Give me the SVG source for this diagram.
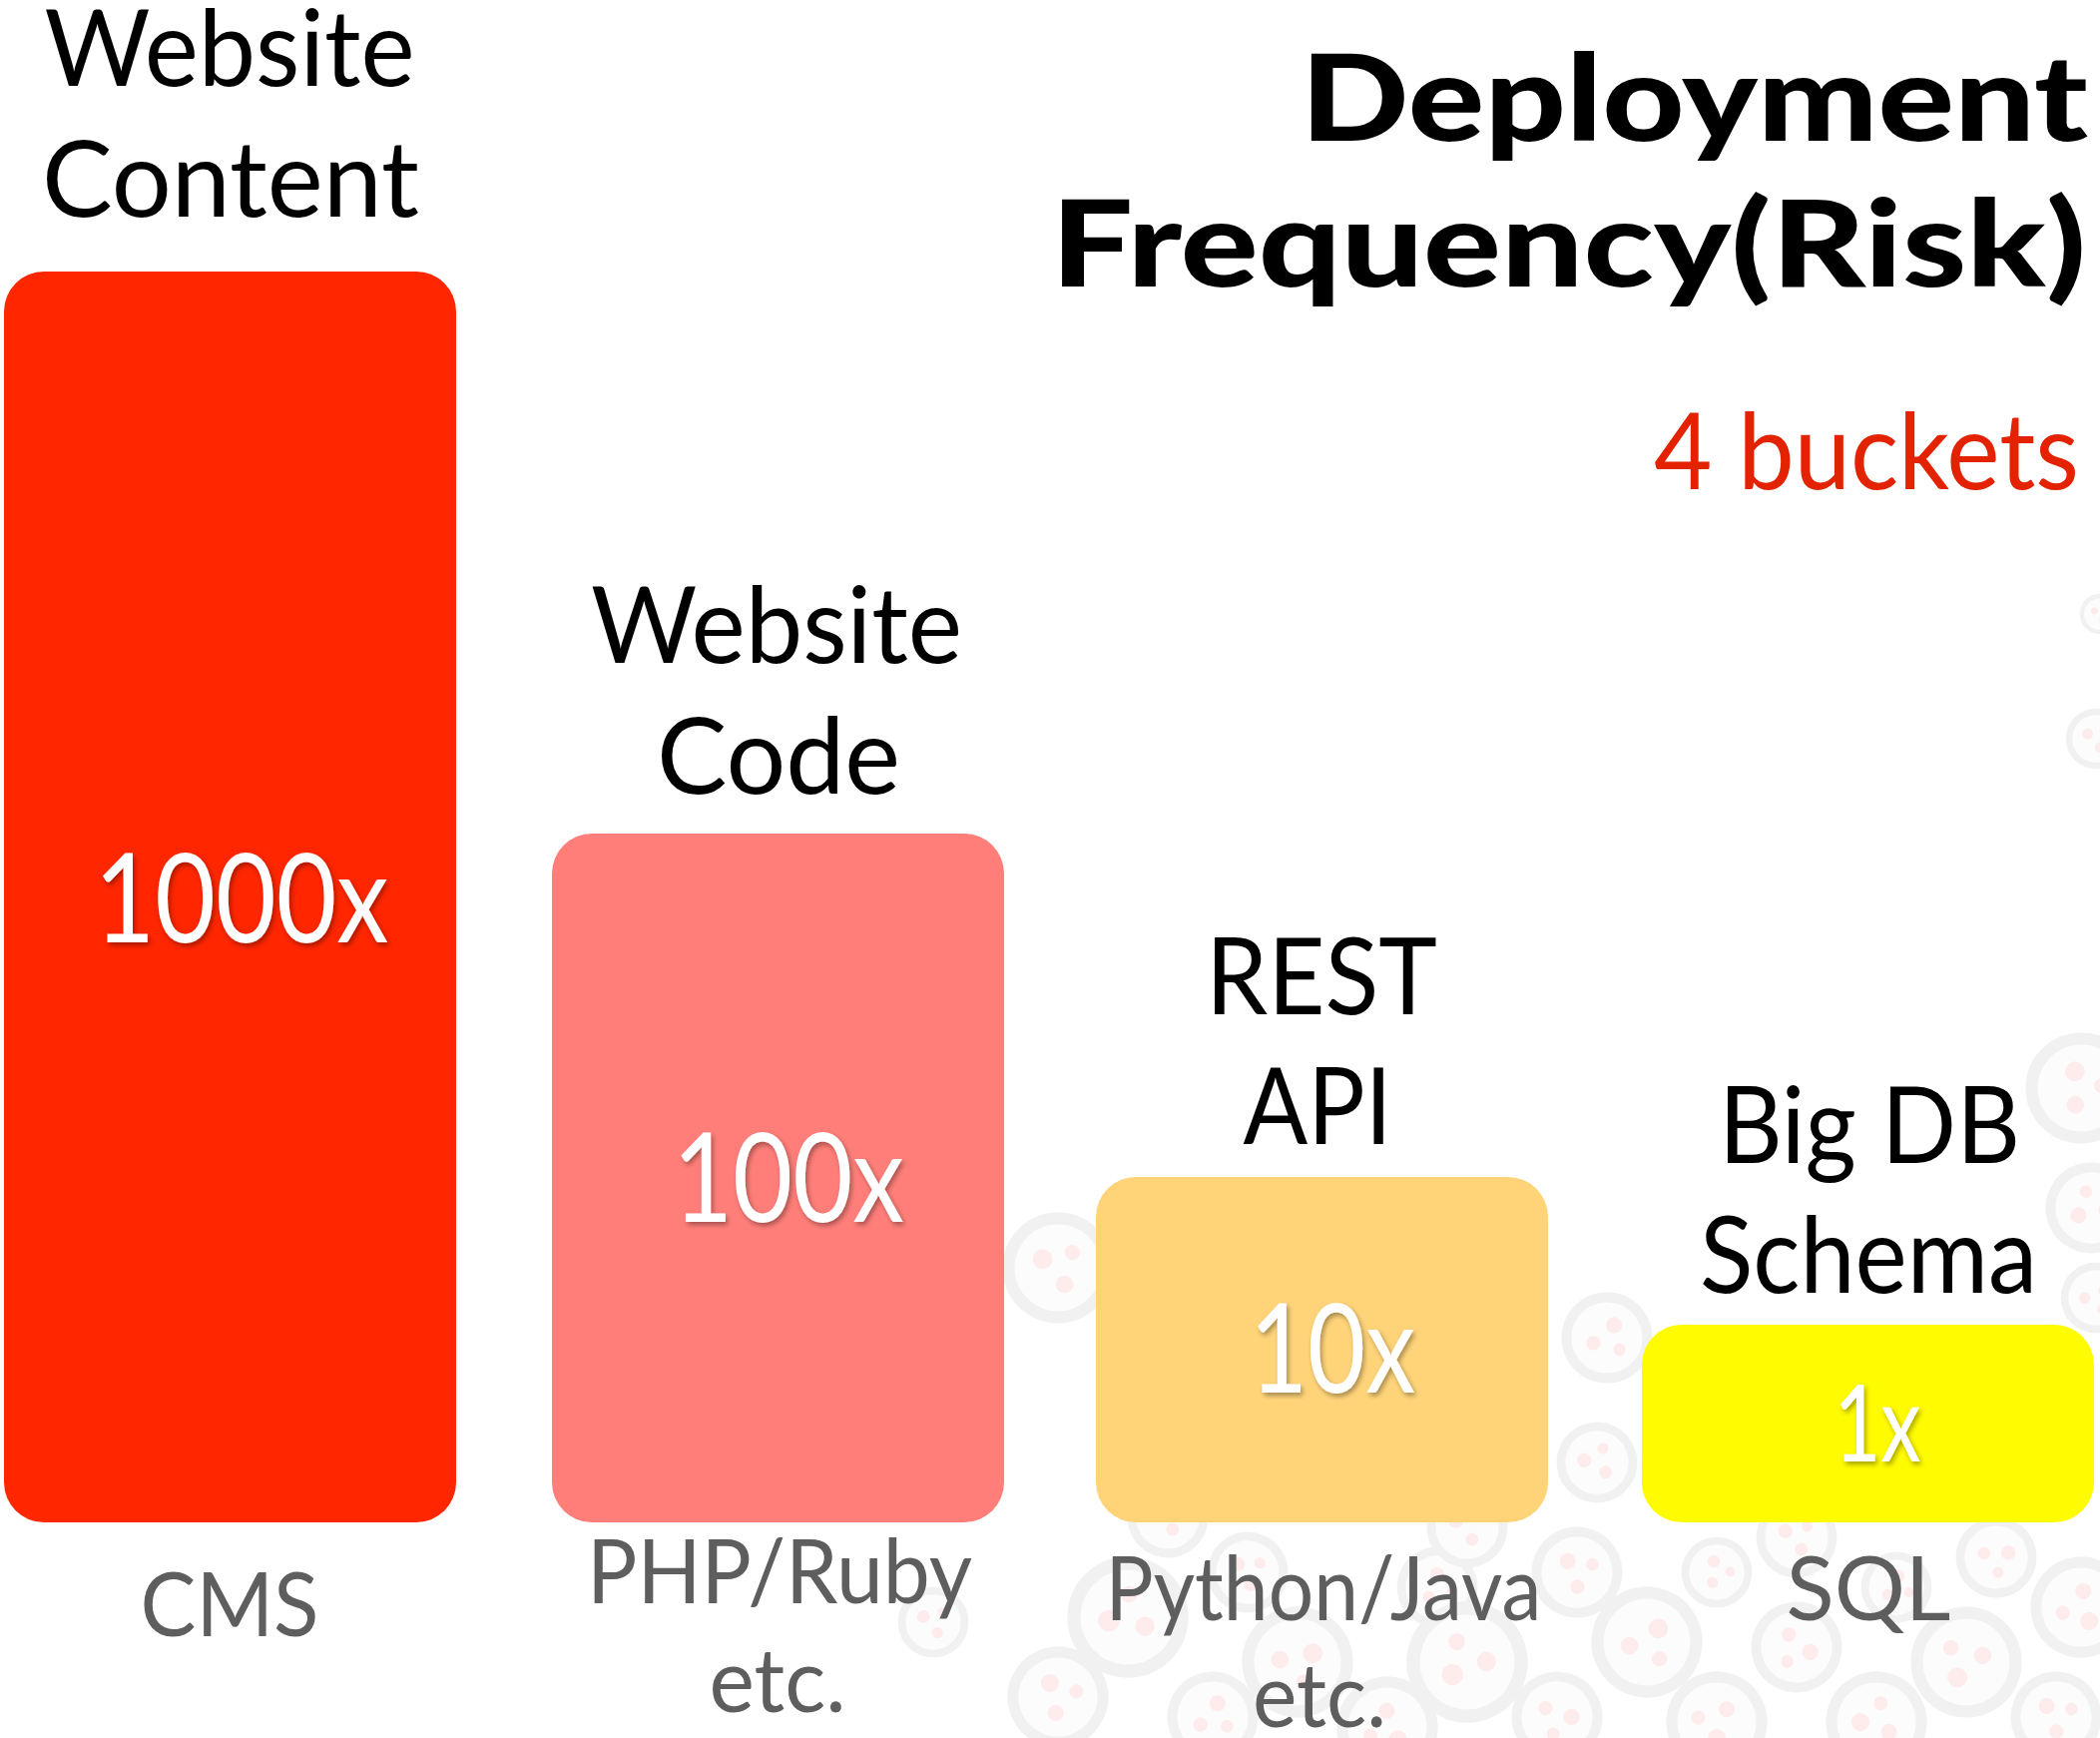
<svg xmlns="http://www.w3.org/2000/svg" xmlns:xlink="http://www.w3.org/1999/xlink" width="2104" height="1741" viewBox="0 0 2104 1741">
<style>
.lbl{font-family:Lato,"Open Sans","Liberation Sans",sans-serif;font-size:106px;fill:#000;text-anchor:middle}
.sub{font-family:Lato,"Open Sans","Liberation Sans",sans-serif;font-size:90px;fill:#5e5e5e;text-anchor:middle}
.val{font-family:Lato,"Open Sans","Liberation Sans",sans-serif;font-size:124px;fill:#fff;text-anchor:middle;filter:url(#sh)}
.title{font-family:Lato,"Open Sans","Liberation Sans",sans-serif;font-weight:900;font-size:121px;fill:#000;text-anchor:end}
.red{font-family:Lato,"Open Sans","Liberation Sans",sans-serif;font-size:107px;fill:#e32200;text-anchor:end}
.ring{fill:#fcfcfc;stroke:#f1f1f1;stroke-width:11}
.dot{fill:#fdeceb}
</style>
<defs>
<filter id="sh" x="-20%" y="-20%" width="140%" height="150%">
<feDropShadow dx="2" dy="3" stdDeviation="2.5" flood-color="#000" flood-opacity="0.35"/>
</filter>
<symbol id="face" overflow="visible">
<circle class="ring" cx="0" cy="0" r="45"/>
<circle class="dot" cx="-14" cy="-8" r="9"/>
<circle class="dot" cx="13" cy="-14" r="7"/>
<circle class="dot" cx="6" cy="15" r="8"/>
</symbol>
</defs>
<rect width="2104" height="1741" fill="#fff"/>
<g id="background">
<use xlink:href="#face" transform="translate(935,1625) scale(0.7)"/>
<use xlink:href="#face" transform="translate(1060,1700) scale(1.0) rotate(30)"/>
<use xlink:href="#face" transform="translate(1060,1270) scale(1.1)"/>
<use xlink:href="#face" transform="translate(1130,1620) scale(1.2) rotate(-40)"/>
<use xlink:href="#face" transform="translate(1215,1720) scale(0.9) rotate(80)"/>
<use xlink:href="#face" transform="translate(1250,1575) scale(0.8) rotate(10)"/>
<use xlink:href="#face" transform="translate(1300,1665) scale(1.1) rotate(120)"/>
<use xlink:href="#face" transform="translate(1390,1730) scale(1.0) rotate(200)"/>
<use xlink:href="#face" transform="translate(1440,1590) scale(0.8) rotate(60)"/>
<use xlink:href="#face" transform="translate(1470,1665) scale(1.2) rotate(-70)"/>
<use xlink:href="#face" transform="translate(1560,1720) scale(0.9) rotate(150)"/>
<use xlink:href="#face" transform="translate(1580,1575) scale(0.9) rotate(20)"/>
<use xlink:href="#face" transform="translate(1600,1465) scale(0.8) rotate(-20)"/>
<use xlink:href="#face" transform="translate(1610,1340) scale(0.9) rotate(90)"/>
<use xlink:href="#face" transform="translate(1650,1645) scale(1.1) rotate(100)"/>
<use xlink:href="#face" transform="translate(1720,1725) scale(1.0) rotate(-120)"/>
<use xlink:href="#face" transform="translate(1720,1575) scale(0.7) rotate(45)"/>
<use xlink:href="#face" transform="translate(1800,1650) scale(0.9) rotate(170)"/>
<use xlink:href="#face" transform="translate(1880,1725) scale(1.0) rotate(-30)"/>
<use xlink:href="#face" transform="translate(1900,1590) scale(0.7) rotate(70)"/>
<use xlink:href="#face" transform="translate(1970,1665) scale(1.1) rotate(-90)"/>
<use xlink:href="#face" transform="translate(2000,1560) scale(0.8) rotate(130)"/>
<use xlink:href="#face" transform="translate(2060,1720) scale(0.9) rotate(20)"/>
<use xlink:href="#face" transform="translate(2085,1610) scale(1.0) rotate(-150)"/>
<use xlink:href="#face" transform="translate(2085,1090) scale(1.1) rotate(40)"/>
<use xlink:href="#face" transform="translate(2095,1210) scale(0.9) rotate(-60)"/>
<use xlink:href="#face" transform="translate(2100,1300) scale(0.7) rotate(110)"/>
<use xlink:href="#face" transform="translate(2100,740) scale(0.6) rotate(0)"/>
<use xlink:href="#face" transform="translate(2104,615) scale(0.4) rotate(0)"/>
<use xlink:href="#face" transform="translate(1170,1520) scale(0.8) rotate(0)"/>
<use xlink:href="#face" transform="translate(1470,1530) scale(0.8) rotate(0)"/>
<use xlink:href="#face" transform="translate(1800,1540) scale(0.8) rotate(0)"/>
</g>
<g id="title">
<text class="title" x="2092" y="141" textLength="789" lengthAdjust="spacingAndGlyphs">Deployment</text>
<text class="title" x="2090" y="287" textLength="1037" lengthAdjust="spacingAndGlyphs">Frequency(Risk)</text>
<text class="red" x="2083" y="490" textLength="426" lengthAdjust="spacingAndGlyphs">4 buckets</text>
</g>
<g id="connectors"></g>
<g id="bucket-content">
<text class="lbl" x="230" y="86" textLength="371" lengthAdjust="spacingAndGlyphs">Website</text>
<text class="lbl" x="231" y="217" textLength="378" lengthAdjust="spacingAndGlyphs">Content</text>
<rect x="4" y="272" width="453" height="1253" rx="40" fill="#ff2600"/>
<text class="val" x="242" y="944" textLength="295" lengthAdjust="spacingAndGlyphs">1000x</text>
<text class="sub" x="230" y="1639" textLength="179" lengthAdjust="spacingAndGlyphs">CMS</text>
</g>
<g id="bucket-code">
<text class="lbl" x="778" y="664" textLength="372" lengthAdjust="spacingAndGlyphs">Website</text>
<text class="lbl" x="780" y="795" textLength="244" lengthAdjust="spacingAndGlyphs">Code</text>
<rect x="553" y="835" width="453" height="690" rx="40" fill="#ff7e79"/>
<text class="val" x="790" y="1224" textLength="232" lengthAdjust="spacingAndGlyphs">100x</text>
<text class="sub" x="781" y="1606" textLength="386" lengthAdjust="spacingAndGlyphs">PHP/Ruby</text>
<text class="sub" x="779" y="1715" textLength="137" lengthAdjust="spacingAndGlyphs">etc.</text>
</g>
<g id="bucket-api">
<text class="lbl" x="1324" y="1016" textLength="232" lengthAdjust="spacingAndGlyphs">REST</text>
<text class="lbl" x="1320" y="1146" textLength="149" lengthAdjust="spacingAndGlyphs">API</text>
<rect x="1098" y="1179" width="453" height="346" rx="40" fill="#ffd479"/>
<text class="val" x="1335" y="1395" textLength="166" lengthAdjust="spacingAndGlyphs">10x</text>
<text class="sub" x="1326" y="1623" textLength="437" lengthAdjust="spacingAndGlyphs">Python/Java</text>
<text class="sub" x="1322" y="1730" textLength="134" lengthAdjust="spacingAndGlyphs">etc.</text>
</g>
<g id="bucket-schema">
<text class="lbl" x="1873" y="1165" textLength="302" lengthAdjust="spacingAndGlyphs">Big DB</text>
<text class="lbl" x="1872" y="1295" textLength="338" lengthAdjust="spacingAndGlyphs">Schema</text>
<rect x="1645" y="1327" width="453" height="198" rx="40" fill="#fffb00"/>
<text class="val" x="1881" y="1464" style="font-size:106px" textLength="87" lengthAdjust="spacingAndGlyphs">1x</text>
<text class="sub" x="1872" y="1623" textLength="165" lengthAdjust="spacingAndGlyphs">SQL</text>
</g>
</svg>
